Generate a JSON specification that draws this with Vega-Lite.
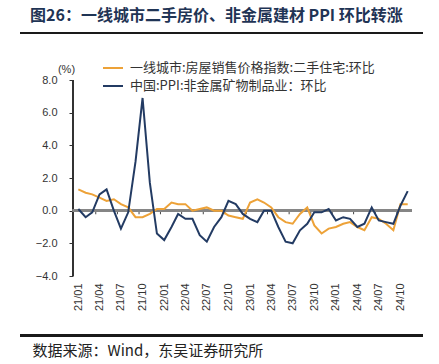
{
  "$schema": "https://vega.github.io/schema/vega-lite/v6.json",
  "width": 403,
  "height": 303,
  "autosize": {"type": "none"},
  "padding": {"left": 20, "top": 33, "right": 16, "bottom": 28},
  "background": "white",
  "config": {"view": {"stroke": null}, "font": "Liberation Sans", "axisX": {"labelOverlap": false}},
  "title": {
    "text": "图26：一线城市二手房价、非金属建材 PPI 环比转涨",
    "anchor": "start",
    "frame": "group",
    "dx": 10,
    "offset": 8,
    "font": "Noto Sans CJK SC",
    "fontSize": 16,
    "fontWeight": "bold",
    "color": "#1f3455"
  },
  "datasets": {
    "quarterTicks": [
      {"date": "2021-03-16"}, {"date": "2021-06-16"}, {"date": "2021-09-16"}, {"date": "2021-12-16"},
      {"date": "2022-03-16"}, {"date": "2022-06-16"}, {"date": "2022-09-16"}, {"date": "2022-12-16"},
      {"date": "2023-03-16"}, {"date": "2023-06-16"}, {"date": "2023-09-16"}, {"date": "2023-12-16"},
      {"date": "2024-03-16"}, {"date": "2024-06-16"}, {"date": "2024-09-16"}
    ],
    "main": [
      {"date": "2021-01-01", "series": "一线城市:房屋销售价格指数:二手住宅:环比", "value": 1.3},
      {"date": "2021-02-01", "series": "一线城市:房屋销售价格指数:二手住宅:环比", "value": 1.1},
      {"date": "2021-03-01", "series": "一线城市:房屋销售价格指数:二手住宅:环比", "value": 1.0},
      {"date": "2021-04-01", "series": "一线城市:房屋销售价格指数:二手住宅:环比", "value": 0.8},
      {"date": "2021-05-01", "series": "一线城市:房屋销售价格指数:二手住宅:环比", "value": 0.6},
      {"date": "2021-06-01", "series": "一线城市:房屋销售价格指数:二手住宅:环比", "value": 0.7},
      {"date": "2021-07-01", "series": "一线城市:房屋销售价格指数:二手住宅:环比", "value": 0.4},
      {"date": "2021-08-01", "series": "一线城市:房屋销售价格指数:二手住宅:环比", "value": 0.2},
      {"date": "2021-09-01", "series": "一线城市:房屋销售价格指数:二手住宅:环比", "value": -0.4},
      {"date": "2021-10-01", "series": "一线城市:房屋销售价格指数:二手住宅:环比", "value": -0.4},
      {"date": "2021-11-01", "series": "一线城市:房屋销售价格指数:二手住宅:环比", "value": -0.2},
      {"date": "2021-12-01", "series": "一线城市:房屋销售价格指数:二手住宅:环比", "value": 0.1},
      {"date": "2022-01-01", "series": "一线城市:房屋销售价格指数:二手住宅:环比", "value": 0.1},
      {"date": "2022-02-01", "series": "一线城市:房屋销售价格指数:二手住宅:环比", "value": 0.5},
      {"date": "2022-03-01", "series": "一线城市:房屋销售价格指数:二手住宅:环比", "value": 0.4},
      {"date": "2022-04-01", "series": "一线城市:房屋销售价格指数:二手住宅:环比", "value": 0.4},
      {"date": "2022-05-01", "series": "一线城市:房屋销售价格指数:二手住宅:环比", "value": 0.0},
      {"date": "2022-06-01", "series": "一线城市:房屋销售价格指数:二手住宅:环比", "value": 0.1},
      {"date": "2022-07-01", "series": "一线城市:房屋销售价格指数:二手住宅:环比", "value": 0.2},
      {"date": "2022-08-01", "series": "一线城市:房屋销售价格指数:二手住宅:环比", "value": 0.0},
      {"date": "2022-09-01", "series": "一线城市:房屋销售价格指数:二手住宅:环比", "value": 0.0},
      {"date": "2022-10-01", "series": "一线城市:房屋销售价格指数:二手住宅:环比", "value": -0.3},
      {"date": "2022-11-01", "series": "一线城市:房屋销售价格指数:二手住宅:环比", "value": -0.4},
      {"date": "2022-12-01", "series": "一线城市:房屋销售价格指数:二手住宅:环比", "value": -0.5},
      {"date": "2023-01-01", "series": "一线城市:房屋销售价格指数:二手住宅:环比", "value": 0.5},
      {"date": "2023-02-01", "series": "一线城市:房屋销售价格指数:二手住宅:环比", "value": 0.7},
      {"date": "2023-03-01", "series": "一线城市:房屋销售价格指数:二手住宅:环比", "value": 0.5},
      {"date": "2023-04-01", "series": "一线城市:房屋销售价格指数:二手住宅:环比", "value": 0.2},
      {"date": "2023-05-01", "series": "一线城市:房屋销售价格指数:二手住宅:环比", "value": -0.4},
      {"date": "2023-06-01", "series": "一线城市:房屋销售价格指数:二手住宅:环比", "value": -0.7},
      {"date": "2023-07-01", "series": "一线城市:房屋销售价格指数:二手住宅:环比", "value": -0.8},
      {"date": "2023-08-01", "series": "一线城市:房屋销售价格指数:二手住宅:环比", "value": -0.2},
      {"date": "2023-09-01", "series": "一线城市:房屋销售价格指数:二手住宅:环比", "value": 0.2},
      {"date": "2023-10-01", "series": "一线城市:房屋销售价格指数:二手住宅:环比", "value": -0.9},
      {"date": "2023-11-01", "series": "一线城市:房屋销售价格指数:二手住宅:环比", "value": -1.4},
      {"date": "2023-12-01", "series": "一线城市:房屋销售价格指数:二手住宅:环比", "value": -1.1},
      {"date": "2024-01-01", "series": "一线城市:房屋销售价格指数:二手住宅:环比", "value": -1.0},
      {"date": "2024-02-01", "series": "一线城市:房屋销售价格指数:二手住宅:环比", "value": -0.8},
      {"date": "2024-03-01", "series": "一线城市:房屋销售价格指数:二手住宅:环比", "value": -0.7},
      {"date": "2024-04-01", "series": "一线城市:房屋销售价格指数:二手住宅:环比", "value": -1.0},
      {"date": "2024-05-01", "series": "一线城市:房屋销售价格指数:二手住宅:环比", "value": -1.2},
      {"date": "2024-06-01", "series": "一线城市:房屋销售价格指数:二手住宅:环比", "value": -0.4},
      {"date": "2024-07-01", "series": "一线城市:房屋销售价格指数:二手住宅:环比", "value": -0.5},
      {"date": "2024-08-01", "series": "一线城市:房屋销售价格指数:二手住宅:环比", "value": -0.8},
      {"date": "2024-09-01", "series": "一线城市:房屋销售价格指数:二手住宅:环比", "value": -1.2},
      {"date": "2024-10-01", "series": "一线城市:房屋销售价格指数:二手住宅:环比", "value": 0.4},
      {"date": "2024-11-01", "series": "一线城市:房屋销售价格指数:二手住宅:环比", "value": 0.4},
      {"date": "2021-01-01", "series": "中国:PPI:非金属矿物制品业：环比", "value": 0.1},
      {"date": "2021-02-01", "series": "中国:PPI:非金属矿物制品业：环比", "value": -0.4},
      {"date": "2021-03-01", "series": "中国:PPI:非金属矿物制品业：环比", "value": -0.1},
      {"date": "2021-04-01", "series": "中国:PPI:非金属矿物制品业：环比", "value": 1.0},
      {"date": "2021-05-01", "series": "中国:PPI:非金属矿物制品业：环比", "value": 1.3},
      {"date": "2021-06-01", "series": "中国:PPI:非金属矿物制品业：环比", "value": 0.0},
      {"date": "2021-07-01", "series": "中国:PPI:非金属矿物制品业：环比", "value": -1.1},
      {"date": "2021-08-01", "series": "中国:PPI:非金属矿物制品业：环比", "value": -0.1},
      {"date": "2021-09-01", "series": "中国:PPI:非金属矿物制品业：环比", "value": 3.0},
      {"date": "2021-10-01", "series": "中国:PPI:非金属矿物制品业：环比", "value": 6.9},
      {"date": "2021-11-01", "series": "中国:PPI:非金属矿物制品业：环比", "value": 1.7},
      {"date": "2021-12-01", "series": "中国:PPI:非金属矿物制品业：环比", "value": -1.4},
      {"date": "2022-01-01", "series": "中国:PPI:非金属矿物制品业：环比", "value": -1.8},
      {"date": "2022-02-01", "series": "中国:PPI:非金属矿物制品业：环比", "value": -1.0},
      {"date": "2022-03-01", "series": "中国:PPI:非金属矿物制品业：环比", "value": -0.2},
      {"date": "2022-04-01", "series": "中国:PPI:非金属矿物制品业：环比", "value": -0.5},
      {"date": "2022-05-01", "series": "中国:PPI:非金属矿物制品业：环比", "value": -0.5},
      {"date": "2022-06-01", "series": "中国:PPI:非金属矿物制品业：环比", "value": -1.5},
      {"date": "2022-07-01", "series": "中国:PPI:非金属矿物制品业：环比", "value": -1.9},
      {"date": "2022-08-01", "series": "中国:PPI:非金属矿物制品业：环比", "value": -1.0},
      {"date": "2022-09-01", "series": "中国:PPI:非金属矿物制品业：环比", "value": -0.4},
      {"date": "2022-10-01", "series": "中国:PPI:非金属矿物制品业：环比", "value": 0.6},
      {"date": "2022-11-01", "series": "中国:PPI:非金属矿物制品业：环比", "value": 0.4},
      {"date": "2022-12-01", "series": "中国:PPI:非金属矿物制品业：环比", "value": -0.2},
      {"date": "2023-01-01", "series": "中国:PPI:非金属矿物制品业：环比", "value": -0.5},
      {"date": "2023-02-01", "series": "中国:PPI:非金属矿物制品业：环比", "value": -0.7},
      {"date": "2023-03-01", "series": "中国:PPI:非金属矿物制品业：环比", "value": 0.0},
      {"date": "2023-04-01", "series": "中国:PPI:非金属矿物制品业：环比", "value": 0.0},
      {"date": "2023-05-01", "series": "中国:PPI:非金属矿物制品业：环比", "value": -1.0},
      {"date": "2023-06-01", "series": "中国:PPI:非金属矿物制品业：环比", "value": -1.9},
      {"date": "2023-07-01", "series": "中国:PPI:非金属矿物制品业：环比", "value": -2.0},
      {"date": "2023-08-01", "series": "中国:PPI:非金属矿物制品业：环比", "value": -1.2},
      {"date": "2023-09-01", "series": "中国:PPI:非金属矿物制品业：环比", "value": -0.8},
      {"date": "2023-10-01", "series": "中国:PPI:非金属矿物制品业：环比", "value": -0.1},
      {"date": "2023-11-01", "series": "中国:PPI:非金属矿物制品业：环比", "value": -0.1},
      {"date": "2023-12-01", "series": "中国:PPI:非金属矿物制品业：环比", "value": 0.1},
      {"date": "2024-01-01", "series": "中国:PPI:非金属矿物制品业：环比", "value": -0.6},
      {"date": "2024-02-01", "series": "中国:PPI:非金属矿物制品业：环比", "value": -0.4},
      {"date": "2024-03-01", "series": "中国:PPI:非金属矿物制品业：环比", "value": -0.5},
      {"date": "2024-04-01", "series": "中国:PPI:非金属矿物制品业：环比", "value": -1.0},
      {"date": "2024-05-01", "series": "中国:PPI:非金属矿物制品业：环比", "value": -0.8},
      {"date": "2024-06-01", "series": "中国:PPI:非金属矿物制品业：环比", "value": 0.2},
      {"date": "2024-07-01", "series": "中国:PPI:非金属矿物制品业：环比", "value": -0.6},
      {"date": "2024-08-01", "series": "中国:PPI:非金属矿物制品业：环比", "value": -0.7},
      {"date": "2024-09-01", "series": "中国:PPI:非金属矿物制品业：环比", "value": -0.8},
      {"date": "2024-10-01", "series": "中国:PPI:非金属矿物制品业：环比", "value": 0.3},
      {"date": "2024-11-01", "series": "中国:PPI:非金属矿物制品业：环比", "value": 1.2}
    ]
  },
  "data": {"name": "main"},
  "layer": [
    {
      "mark": {"type": "rule", "color": "#1a1a1a", "strokeWidth": 2},
      "encoding": {
        "x": {"datum": {"year": 2020, "month": 4, "date": 28, "utc": true}, "type": "temporal", "scale": {"type": "utc", "domain": [{"year": 2020, "month": 4, "date": 28, "utc": true}, {"year": 2025, "month": 1, "date": 5, "utc": true}]}},
        "x2": {"datum": {"year": 2025, "month": 1, "date": 5, "utc": true}},
        "y": {"datum": 10.878, "type": "quantitative", "scale": {"domain": [-7.673, 10.878], "nice": false, "zero": false}}
      }
    },
    {
      "mark": {"type": "rule", "color": "#1a1a1a", "strokeWidth": 2},
      "encoding": {
        "x": {"datum": {"year": 2020, "month": 4, "date": 28, "utc": true}, "type": "temporal", "scale": {"type": "utc", "domain": [{"year": 2020, "month": 4, "date": 28, "utc": true}, {"year": 2025, "month": 1, "date": 5, "utc": true}]}},
        "x2": {"datum": {"year": 2025, "month": 1, "date": 5, "utc": true}},
        "y": {"datum": -7.62, "type": "quantitative", "scale": {"domain": [-7.673, 10.878], "nice": false, "zero": false}}
      }
    },
    {
      "mark": {"type": "rule", "color": "#333333", "strokeWidth": 1.5},
      "encoding": {
        "x": {"datum": {"year": 2020, "month": 12, "date": 9, "utc": true}, "type": "temporal", "scale": {"type": "utc", "domain": [{"year": 2020, "month": 4, "date": 28, "utc": true}, {"year": 2025, "month": 1, "date": 5, "utc": true}]}},
        "y": {"datum": -4, "type": "quantitative", "scale": {"domain": [-7.673, 10.878], "nice": false, "zero": false}},
        "y2": {"datum": 8}
      }
    },
    {
      "data": {"name": "quarterTicks"},
      "mark": {"type": "rule", "color": "#444444", "strokeWidth": 1},
      "encoding": {
        "x": {"field": "date", "type": "temporal", "scale": {"type": "utc", "domain": [{"year": 2020, "month": 4, "date": 28, "utc": true}, {"year": 2025, "month": 1, "date": 5, "utc": true}]}},
        "y": {"datum": 0, "type": "quantitative", "scale": {"domain": [-7.673, 10.878], "nice": false, "zero": false}},
        "y2": {"datum": -0.22}
      }
    },
    {
      "mark": {"type": "rule", "color": "#858585", "strokeWidth": 2.5},
      "encoding": {
        "x": {"datum": {"year": 2020, "month": 12, "date": 9, "utc": true}, "type": "temporal", "scale": {"type": "utc", "domain": [{"year": 2020, "month": 4, "date": 28, "utc": true}, {"year": 2025, "month": 1, "date": 5, "utc": true}]}},
        "x2": {"datum": {"year": 2024, "month": 11, "date": 16, "utc": true}},
        "y": {"datum": 0, "type": "quantitative", "scale": {"domain": [-7.673, 10.878], "nice": false, "zero": false}}
      }
    },
    {
      "mark": {"type": "line", "strokeWidth": 2},
      "encoding": {
        "x": {
          "field": "date",
          "type": "temporal",
          "scale": {"type": "utc", "domain": [{"year": 2020, "month": 4, "date": 28, "utc": true}, {"year": 2025, "month": 1, "date": 5, "utc": true}]},
          "axis": {
            "orient": "bottom",
            "offset": -60,
            "domain": false,
            "ticks": false,
            "grid": false,
            "tickCount": 40,
            "values": [1609459200000, 1617235200000, 1625097600000, 1633046400000, 1640995200000, 1648771200000, 1656633600000, 1664582400000, 1672531200000, 1680307200000, 1688169600000, 1696118400000, 1704067200000, 1711929600000, 1719792000000, 1727740800000],
            "format": "%y/%m",
            "labelAngle": 270,
            "labelPadding": 7,
            "labelFontSize": 11,
            "labelColor": "#333333",
            "labelOverlap": false,
            "labelBound": false,
            "labelFlush": false,
            "title": "数据来源：Wind，东吴证券研究所",
            "titleX": 12,
            "titleY": 74,
            "titleAlign": "left",
            "titleAnchor": "start",
            "titleBaseline": "middle",
            "titleFont": "Noto Sans CJK SC",
            "titleFontSize": 15,
            "titleFontWeight": "normal",
            "titleColor": "#222222"
          }
        },
        "y": {
          "field": "value",
          "type": "quantitative",
          "scale": {"domain": [-7.673, 10.878], "nice": false, "zero": false},
          "axis": {
            "offset": -53,
            "values": [-4, -2, 0, 2, 4, 6, 8],
            "tickCount": 20,
            "format": ".1f",
            "domain": false,
            "grid": false,
            "tickSize": 4,
            "tickColor": "#333333",
            "labelPadding": 12,
            "labelFontSize": 11,
            "labelColor": "#333333",
            "title": "(%)",
            "titleAngle": 0,
            "titleX": -7,
            "titleY": 36,
            "titleAlign": "center",
            "titleBaseline": "middle",
            "titleFontSize": 11,
            "titleFontWeight": "normal",
            "titleColor": "#333333"
          }
        },
        "color": {
          "field": "series",
          "type": "nominal",
          "scale": {"domain": ["一线城市:房屋销售价格指数:二手住宅:环比", "中国:PPI:非金属矿物制品业：环比"], "range": ["#eda238", "#233b63"]},
          "legend": {
            "orient": "none",
            "legendX": 82,
            "legendY": 24,
            "title": null,
            "direction": "vertical",
            "symbolType": "stroke",
            "symbolSize": 400,
            "symbolStrokeWidth": 2,
            "labelFont": "Noto Sans CJK SC",
            "labelFontSize": 13,
            "labelLimit": 400,
            "labelColor": "#333333",
            "labelOffset": 6,
            "rowPadding": -3,
            "padding": 0
          }
        }
      }
    }
  ]
}
